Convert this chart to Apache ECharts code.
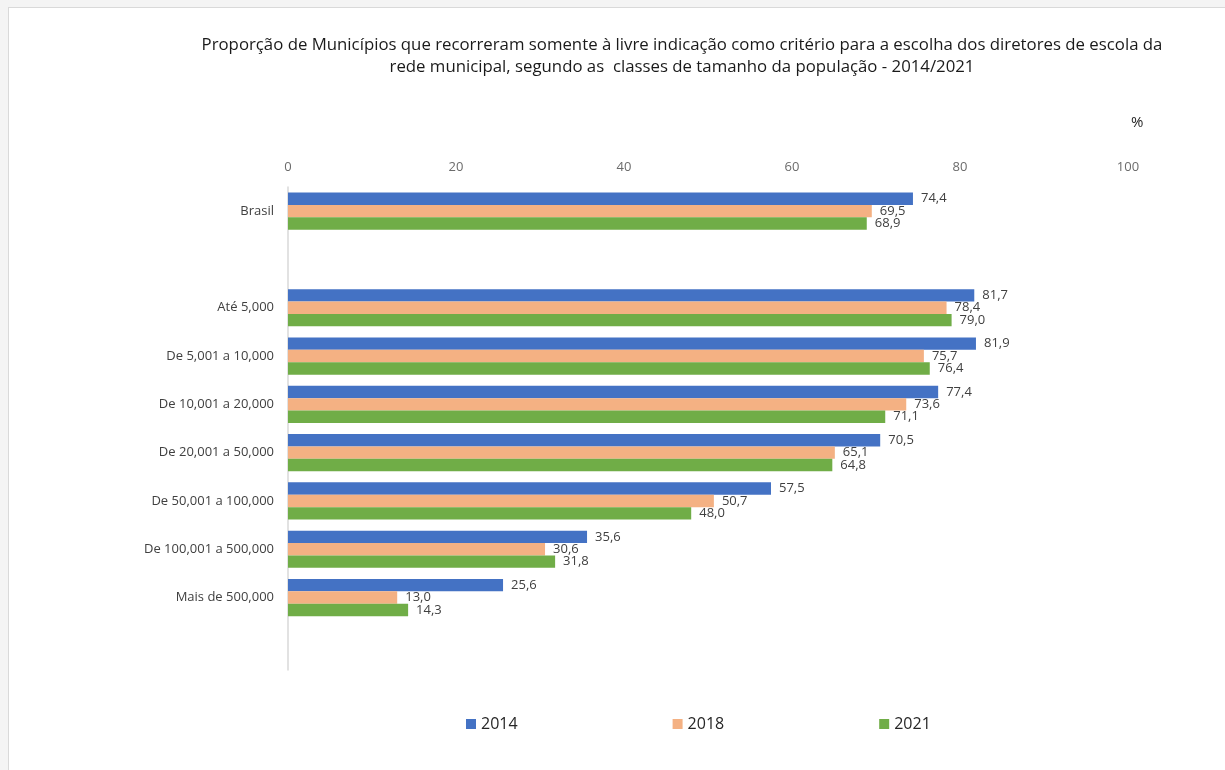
<!DOCTYPE html>
<html>
<head>
<meta charset="utf-8">
<script src="https://cdn.jsdelivr.net/npm/echarts@6/dist/echarts.min.js"></script>
<style>
  html, body { margin: 0; padding: 0; background: #f4f4f4; }
  .frame {
    position: absolute;
    left: 8px; top: 7px; width: 1230px; height: 780px;
    background: #fff;
    border: 1px solid #d9d9d9;
  }
  #chart { position: absolute; left: 0; top: 0; width: 1225px; height: 770px; }
</style>
</head>
<body>
<div class="frame"></div>
<div id="chart"></div>
<script>
// blank entries keep the empty rows of the original layout
const categories = [
  'Brasil', ' ', 'Até 5,000', 'De 5,001 a 10,000', 'De 10,001 a 20,000',
  'De 20,001 a 50,000', 'De 50,001 a 100,000', 'De 100,001 a 500,000',
  'Mais de 500,000', '  '
];
const values2014 = [74.4, null, 81.7, 81.9, 77.4, 70.5, 57.5, 35.6, 25.6, null];
const values2018 = [69.5, null, 78.4, 75.7, 73.6, 65.1, 50.7, 30.6, 13.0, null];
const values2021 = [68.9, null, 79.0, 76.4, 71.1, 64.8, 48.0, 31.8, 14.3, null];
const xTicks = [0, 20, 40, 60, 80, 100];

const font = 'Open Sans, Liberation Sans, sans-serif';

function makeSeries(name, data, color) {
  return {
    name,
    type: 'bar',
    data,
    barGap: 0,
    barCategoryGap: '23%',
    itemStyle: { color },
    label: {
      show: true,
      position: 'right',
      distance: 8,
      color: '#404040',
      fontSize: 13,
      fontFamily: font,
      formatter: (p) => p.value == null ? '' : p.value.toFixed(1).replace('.', ','),
    },
  };
}

const chart = echarts.init(document.getElementById('chart'));
chart.setOption({
  backgroundColor: 'transparent',
  animation: false,
  title: [
    {
      text: 'Proporção de Municípios que recorreram somente à livre indicação como critério para a escolha dos diretores de escola da\nrede municipal, segundo as  classes de tamanho da população - 2014/2021',
      left: 677,
      top: 29,
      textAlign: 'center',
      textStyle: { fontSize: 16.8, fontWeight: 'normal', color: '#1a1a1a', fontFamily: font, lineHeight: 22 },
    },
    {
      text: '%',
      left: 1126,
      top: 110,
      textStyle: { fontSize: 15, fontWeight: 'normal', color: '#262626', fontFamily: font },
    },
  ],
  legend: {
    left: 461,
    top: 711,
    itemWidth: 10,
    itemHeight: 10,
    itemGap: 155,
    icon: 'rect',
    textStyle: { fontSize: 16, color: '#262626', fontFamily: font },
    data: ['2014', '2018', '2021'],
  },
  grid: { left: 288, right: 97, top: 187, bottom: 100 },
  xAxis: {
    type: 'value',
    position: 'top',
    min: xTicks[0],
    max: xTicks[xTicks.length - 1],
    interval: 20,
    axisLine: { show: false },
    axisTick: { show: false },
    splitLine: { show: false },
    axisLabel: { color: '#6b6b6b', fontSize: 13, fontFamily: font, margin: 13 },
  },
  yAxis: {
    type: 'category',
    inverse: true,
    data: categories,
    axisLine: { show: true, lineStyle: { color: '#d9d9d9', width: 1.5 } },
    axisTick: { show: false },
    axisLabel: { color: '#404040', fontSize: 13, fontFamily: font, margin: 14 },
  },
  series: [
    makeSeries('2014', values2014, '#4472C4'),
    makeSeries('2018', values2018, '#F4B183'),
    makeSeries('2021', values2021, '#70AD47'),
  ],
});
</script>
</body>
</html>
